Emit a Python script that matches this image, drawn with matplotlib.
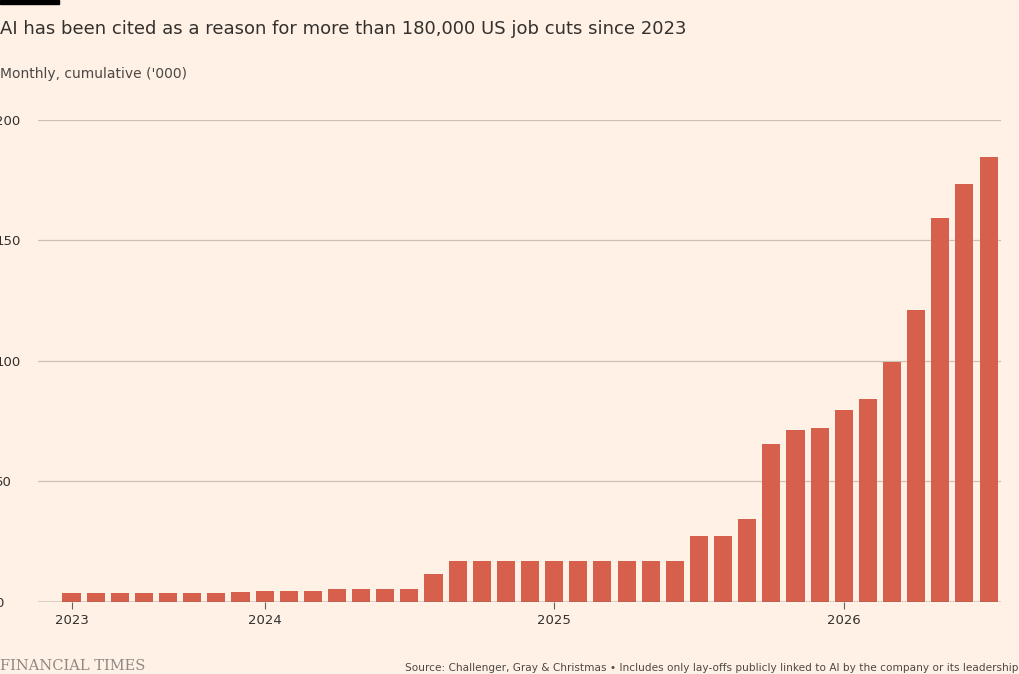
import matplotlib.pyplot as plt

months = [f"{y}-{m:02d}" for y, m in
          [(2023, m) for m in range(5, 13)] + [(2024, m) for m in range(1, 13)] +
          [(2025, m) for m in range(1, 13)] + [(2026, m) for m in range(1, 8)]]
values = [3.5, 3.5, 3.5, 3.5, 3.5, 3.5, 3.7, 3.9,
          4.5, 4.5, 4.5, 5.3, 5.3, 5.3, 5.3, 11.5, 17, 17, 17, 17,
          17, 17, 17, 17, 17, 17, 27.5, 27.5, 34.5, 65.5, 71.5, 72,
          79.5, 84, 99.5, 121, 159.5, 173.5, 184.5]
year_labels = ["2023", "2024", "2025", "2026"]
year_pos = [months.index(m) for m in ["2023-05", "2024-01", "2025-01", "2026-01"]]

bg = "#fff1e5"
fig = plt.figure(figsize=(10.2, 6.74), dpi=100, facecolor=bg)
ax = fig.add_axes([0.037, 0.107, 0.944, 0.715], facecolor=bg)

ax.bar(range(len(values)), values, width=0.75, color="#d6604b", zorder=3)
ax.set_xlim(-1.4, len(values) - 0.5)
ax.set_ylim(0, 200)
ax.set_yticks([0, 50, 100, 150, 200])
ax.grid(axis="y", color="#ccc1b7", linewidth=0.9, zorder=0)
ax.axhline(0, color="#66605c", linewidth=1, zorder=4)
for s in ax.spines.values():
    s.set_visible(False)
ax.tick_params(axis="y", length=0, pad=12, labelsize=9.5, labelcolor="#33302e")
for lab in ax.get_yticklabels():
    lab.set_horizontalalignment("left")
    lab.set_x(-0.027)
ax.set_xticks(year_pos)
ax.set_xticklabels(year_labels)
ax.tick_params(axis="x", length=5, color="#66605c", labelsize=9.5, labelcolor="#33302e")

fig.patches.append(plt.Rectangle((0, 0.994), 0.058, 0.006, transform=fig.transFigure, color="black"))
fig.text(0.0, 0.957, "AI has been cited as a reason for more than 180,000 US job cuts since 2023",
         fontsize=13, color="#33302e", va="center")
fig.text(0.0, 0.89, "Monthly, cumulative ('000)", fontsize=10, color="#4d4845", va="center")
fig.text(0.0, 0.002, "FINANCIAL TIMES", fontsize=10.5, family="serif", color="#8f8883", va="bottom")
fig.text(0.999, 0.002, "Source: Challenger, Gray & Christmas \u2022 Includes only lay-offs publicly linked to AI by the company or its leadership",
         fontsize=7.6, color="#4d4845", ha="right", va="bottom")

fig.savefig("out.png", dpi=100, facecolor=bg)
